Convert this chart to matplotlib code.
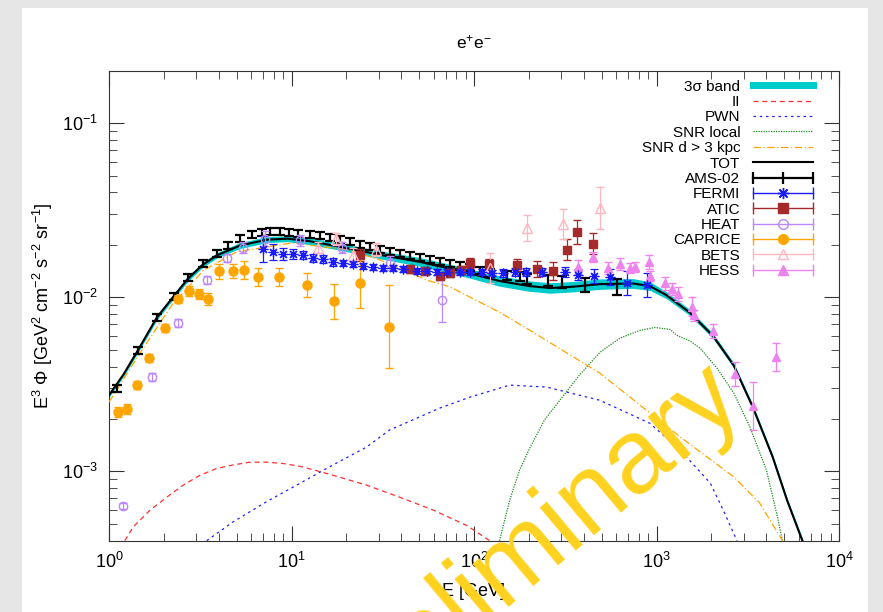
import numpy as np
import matplotlib
matplotlib.use('Agg')
import matplotlib.pyplot as plt
from matplotlib.lines import Line2D
from matplotlib.patches import Rectangle
from matplotlib.legend_handler import HandlerBase

plt.rcParams['font.family'] = ['Liberation Sans', 'DejaVu Sans']
plt.rcParams['mathtext.default'] = 'regular'
plt.rcParams['axes.unicode_minus'] = False

# ---- model curves (E in GeV, E^3 Phi) ----
tot_E = [1.0, 1.2, 1.44, 1.83, 2.24, 2.71, 3.27, 3.9, 5.2, 7.3, 9.5, 12.5, 18, 31.7, 50, 74, 100,
         138, 200, 261, 350, 490, 745, 919, 1130, 1515, 2040, 2650, 3370, 4330, 5200, 6300, 7000]
tot_y = [0.00274, 0.0036, 0.00496, 0.00766, 0.0100, 0.0128, 0.0154, 0.0174, 0.0198, 0.0214, 0.0217,
         0.0210, 0.0196, 0.0174, 0.0160, 0.0146, 0.0135, 0.0124, 0.0116, 0.0113, 0.0115, 0.0119,
         0.0120, 0.0116, 0.0103, 0.0082, 0.0060, 0.00406, 0.00234, 0.00121, 0.00068, 0.00040, 0.00029]
band_dex = [0.012, 0.012, 0.014, 0.014, 0.014, 0.015, 0.015, 0.015, 0.017, 0.017, 0.017, 0.02, 0.02,
            0.023, 0.025, 0.025, 0.027, 0.03, 0.03, 0.03, 0.03, 0.03, 0.028, 0.025, 0.02, 0.017,
            0.015, 0.015, 0.015, 0.015, 0.015, 0.015, 0.015]

ii_E = [1.22, 1.36, 1.68, 2.07, 2.55, 3.15, 3.89, 4.8, 5.93, 7.3, 9.0, 11.1, 13.7, 16.9, 25.8, 39.3,
        59.7, 91, 122]
ii_y = [0.00040, 0.000481, 0.00060, 0.00071, 0.000834, 0.00095, 0.00104, 0.00109, 0.00113, 0.00113,
        0.00111, 0.00107, 0.00101, 0.00095, 0.000834, 0.00071, 0.00060, 0.00049, 0.00040]

pwn_E = [3.43, 4.8, 7.3, 11.1, 16.9, 25.8, 34.5, 65, 95, 157, 250, 490, 919, 1355, 1970, 2320, 2760]
pwn_y = [0.00040, 0.000514, 0.00067, 0.000853, 0.00109, 0.00138, 0.00173, 0.00231, 0.00267,
         0.00313, 0.00305, 0.00256, 0.00189, 0.00132, 0.000857, 0.00060, 0.00040]

snrl_E = [138, 157, 178, 202, 243, 295, 378, 490, 628, 808, 980, 1190, 1290, 1530, 1740, 2150, 2650,
          3250, 4000, 4600, 4900]
snrl_y = [0.00040, 0.000686, 0.00102, 0.00136, 0.00197, 0.00256, 0.00357, 0.00483, 0.00581, 0.00645,
          0.00671, 0.00653, 0.00605, 0.0056, 0.00509, 0.0039, 0.00282, 0.0018, 0.00102, 0.000547,
          0.00040]

snrf_E = [1.0, 1.5, 2.24, 3.3, 5.0, 10, 20, 30, 57, 73.5, 138, 203, 490, 1355, 2650, 3670, 4900]
snrf_y = [0.0025, 0.0049, 0.0092, 0.0143, 0.0182, 0.0205, 0.0188, 0.0165, 0.0124, 0.0115, 0.0082,
          0.00645, 0.00366, 0.00157, 0.00093, 0.00066, 0.00040]

# ---- data sets (errors in dex) ----
ams_E = [1.11, 1.44, 1.83, 2.27, 2.71, 3.27, 3.90, 4.49, 5.21, 6.07, 6.89, 7.62, 8.66, 9.69, 10.9,
         12.6, 14.3, 16.2, 18.4, 20.9, 23.7, 26.9, 30.5, 34.7, 39.3, 44.6, 50.7, 57.5, 65.3, 74.1,
         84.1, 95.5, 108, 122, 151, 178, 196, 254, 303, 406, 608]
ams_y = [0.00300, 0.00495, 0.00766, 0.0101, 0.0130, 0.0156, 0.0178, 0.0198, 0.0217, 0.0229, 0.0235,
         0.0238, 0.0238, 0.0235, 0.0232, 0.0229, 0.0226, 0.0220, 0.0214, 0.0209, 0.0201, 0.0195,
         0.0188, 0.0183, 0.0178, 0.0174, 0.0169, 0.0165, 0.0160, 0.0156, 0.0152, 0.0148, 0.0142,
         0.0137, 0.0133, 0.0132, 0.0128, 0.0125, 0.0122, 0.0117, 0.0114]
ams_err = [0.02] * 33 + [0.023, 0.025, 0.027, 0.029, 0.031, 0.034, 0.04, 0.046]

fermi_E = [7.0, 7.9, 9.0, 10.2, 11.6, 13.1, 14.9, 16.9, 19.2, 21.7, 24.6, 28.0, 31.7, 35.9, 40.8,
           48.7, 55.3, 62.7, 71.2, 83.9, 95.5, 110, 125, 144, 168, 192, 237, 316, 370, 456, 557,
           688, 887]
fermi_y = [0.0190, 0.0181, 0.0178, 0.0178, 0.0176, 0.0169, 0.0165, 0.0160, 0.0158, 0.0156, 0.0152,
           0.0150, 0.0148, 0.0148, 0.0146, 0.0142, 0.0141, 0.0139, 0.0139, 0.0139, 0.0139, 0.0139,
           0.0137, 0.0137, 0.0139, 0.0139, 0.0139, 0.0139, 0.0135, 0.0133, 0.0130, 0.0120, 0.0118]
fermi_err = [0.075, 0.046, 0.034, 0.029, 0.023, 0.023, 0.023, 0.023] + [0.017] * 15 + \
            [0.023, 0.023, 0.023, 0.023, 0.029, 0.034, 0.04, 0.046, 0.069, 0.069]

atic_E = [23.7, 44.6, 53.8, 65.3, 73.9, 84.7, 95.5, 121, 172, 221, 270, 322, 369, 449]
atic_y = [0.0174, 0.0146, 0.0141, 0.0133, 0.0137, 0.0144, 0.0158, 0.0156, 0.0154, 0.0146, 0.0141,
          0.0188, 0.0238, 0.0203]
atic_err = [0.034, 0.023, 0.023, 0.023, 0.023, 0.023, 0.029, 0.029, 0.034, 0.046, 0.052, 0.063,
            0.069, 0.06]

heat_E = [1.19, 1.72, 2.39, 3.44, 4.43, 5.43, 7.17, 11.1, 18.9, 34.5, 66.6]
heat_y = [0.000633, 0.00347, 0.0071, 0.0125, 0.0167, 0.0193, 0.0217, 0.0212, 0.0193, 0.0158, 0.0096]
heat_err = [0.017, 0.023, 0.023, 0.023, 0.023, 0.029, 0.043, 0.034, 0.034, 0.04, 0.126]

cap_E = [1.12, 1.25, 1.42, 1.66, 2.03, 2.39, 2.74, 3.11, 3.49, 4.0, 4.77, 5.49, 6.55, 8.52, 12.1,
         17.1, 23.7, 34.1]
cap_y = [0.00219, 0.00228, 0.00312, 0.00446, 0.00665, 0.00973, 0.0109, 0.0105, 0.00973, 0.0141,
         0.0141, 0.0144, 0.0130, 0.0130, 0.0117, 0.00946, 0.0120, 0.00679]
cap_err = [0.029, 0.029, 0.023, 0.023, 0.023, 0.023, 0.029, 0.029, 0.034, 0.043, 0.04, 0.052, 0.052,
           0.052, 0.069, 0.1, 0.143, 0.24]

bets_E = [14.0, 17.5, 21.7, 29.0, 122, 195, 307, 490]
bets_y = [0.0193, 0.0217, 0.0174, 0.0188, 0.0148, 0.0251, 0.0265, 0.0327]
bets_err = [0.029, 0.034, 0.04, 0.04, 0.086, 0.075, 0.086, 0.12]

hess_E = [370, 449, 542, 628, 712, 760, 907, 922, 1110, 1220, 1310, 1560, 1600, 2040, 2700, 3400, 4530]
hess_y = [0.0150, 0.0171, 0.0148, 0.0156, 0.0148, 0.0150, 0.0160, 0.0132, 0.0120, 0.0111, 0.0105,
          0.00885, 0.00786, 0.00637, 0.00361, 0.00236, 0.00456]
hess_err = [0.04, 0.029, 0.034, 0.034, 0.029, 0.029, 0.04, 0.029, 0.04, 0.034, 0.04, 0.052, 0.029,
            0.04, 0.069, 0.138, 0.08]


def dexerr(y, d):
    y = np.asarray(y)
    d = np.asarray(d)
    return [y * (1 - 10 ** -d), y * (10 ** d - 1)]


class GnuErrHandler(HandlerBase):
    # gnuplot style key: horizontal bar with end caps and the point in the middle
    def create_artists(self, legend, orig, xdescent, ydescent, width, height, fontsize, trans):
        x0, x1 = -xdescent, -xdescent + width
        yc = (height - ydescent) / 2
        col = orig.get_color()
        bar = Line2D([x0, x1], [yc, yc], color=col, lw=orig.get_linewidth())
        caps = Line2D([x0, x1], [yc, yc], ls='none', marker='|', ms=8, mew=orig.get_linewidth(), color=col)
        mk = Line2D([(x0 + x1) / 2], [yc], ls='none', marker=orig.get_marker(), ms=orig.get_markersize(),
                    mfc=orig.get_markerfacecolor(), mec=orig.get_markeredgecolor(),
                    mew=orig.get_markeredgewidth())
        for a in (bar, caps, mk):
            a.set_transform(trans)
        return [bar, caps, mk]


fig = plt.figure(figsize=(8.83, 6.12), dpi=100)
fig.patch.set_facecolor('#e6e6e6')
fig.add_artist(Rectangle((22 / 883, 0), 846 / 883, 604 / 612, transform=fig.transFigure,
                         facecolor='white', edgecolor='none', zorder=-5))
ax = fig.add_axes([109 / 883, 1 - 540.7 / 612, 730 / 883, 470 / 612])

band_lo = np.array(tot_y) * 10 ** -np.array(band_dex)
band_hi = np.array(tot_y) * 10 ** np.array(band_dex)
ax.fill_between(tot_E, band_lo, band_hi, color='#00cccc', lw=0, zorder=2)
ax.plot(ii_E, ii_y, color='#ff3030', ls=(0, (4, 3)), lw=0.9, zorder=3)
ax.plot(pwn_E, pwn_y, color='#2020ff', ls=(0, (2, 3)), lw=0.9, zorder=3)
ax.plot(snrl_E, snrl_y, color='#1a8c1a', ls=(0, (1, 1)), lw=0.9, zorder=3)
ax.plot(snrf_E, snrf_y, color='#ffa500', ls=(0, (6, 2, 1, 2)), lw=0.9, zorder=3)
ax.plot(tot_E, tot_y, color='black', lw=1.5, zorder=4)

sets = [
    (ams_E, ams_y, ams_err, dict(fmt='none', color='black', elinewidth=1.6, capsize=3.5, capthick=1.6)),
    (fermi_E, fermi_y, fermi_err, dict(fmt='none', color='#1a1aff', elinewidth=0.9, capsize=3, capthick=0.9)),
    (atic_E, atic_y, atic_err, dict(fmt='s', color='#a52a2a', ms=6, elinewidth=0.9, capsize=3)),
    (heat_E, heat_y, heat_err, dict(fmt='o', color='#bb88ff', mfc='none', ms=6, mew=1, elinewidth=0.9, capsize=3)),
    (cap_E, cap_y, cap_err, dict(fmt='o', color='#ffa500', ms=6.5, elinewidth=0.9, capsize=3)),
    (bets_E, bets_y, bets_err, dict(fmt='^', color='#ffb6c1', mfc='none', ms=7, mew=1, elinewidth=0.9, capsize=3)),
    (hess_E, hess_y, hess_err, dict(fmt='^', color='#ee82ee', ms=6, elinewidth=0.9, capsize=3)),
]
for E, y, d, kw in sets:
    ax.errorbar(E, y, yerr=dexerr(y, d), zorder=5, **kw)
ax.plot(fermi_E, fermi_y, ls='none', marker=(8, 2, 0), ms=7, mew=0.9, color='#1a1aff', zorder=6)

ax.set_xscale('log')
ax.set_yscale('log')
ax.set_xlim(1, 1e4)
ax.set_ylim(4e-4, 0.2)
ax.tick_params(which='both', direction='in', top=True, right=True, labelsize=13, pad=8,
               color='#333333')
ax.tick_params(which='major', length=11)
ax.tick_params(which='minor', length=6)
for s in ax.spines.values():
    s.set_color('#333333')

ax.set_title('e$^{+}$e$^{-}$', fontsize=12.5, pad=16)
ax.set_xlabel('E [GeV]', fontsize=13)
ax.xaxis.set_label_coords(0.5, -0.09)
ax.set_ylabel('E$^{3}$ Φ [GeV$^{2}$ cm$^{-2}$ s$^{-2}$ sr$^{-1}$]', fontsize=13)
ax.yaxis.set_label_coords(-0.074, 0.5)

# legend
err_kw = dict(lw=1)
h_band = Line2D([], [], color='#00cccc', lw=5)
h_ii = Line2D([], [], color='#ff3030', ls=(0, (4, 3)), lw=0.9)
h_pwn = Line2D([], [], color='#2020ff', ls=(0, (2, 3)), lw=0.9)
h_snrl = Line2D([], [], color='#1a8c1a', ls=(0, (1, 1)), lw=0.9)
h_snrf = Line2D([], [], color='#ffa500', ls=(0, (6, 2, 1, 2)), lw=0.9)
h_tot = Line2D([], [], color='black', lw=1.5)
h_ams = Line2D([], [], color='black', lw=1.6, marker='|', ms=8, mew=1.6)
h_fermi = Line2D([], [], color='#1a1aff', marker=(8, 2, 0), ms=8, mew=1, **err_kw)
h_atic = Line2D([], [], color='#a52a2a', marker='s', ms=7, mfc='#a52a2a', mec='#a52a2a', **err_kw)
h_heat = Line2D([], [], color='#bb88ff', marker='o', ms=7, mfc='none', mec='#bb88ff', mew=1, **err_kw)
h_cap = Line2D([], [], color='#ffa500', marker='o', ms=7, mfc='#ffa500', mec='#ffa500', **err_kw)
h_bets = Line2D([], [], color='#ffb6c1', marker='^', ms=7, mfc='none', mec='#ffb6c1', mew=1, **err_kw)
h_hess = Line2D([], [], color='#ee82ee', marker='^', ms=7, mfc='#ee82ee', mec='#ee82ee', **err_kw)
handles = [h_band, h_ii, h_pwn, h_snrl, h_snrf, h_tot, h_ams, h_fermi, h_atic, h_heat, h_cap, h_bets, h_hess]
labels = ['3σ band', 'II', 'PWN', 'SNR local', 'SNR d > 3 kpc', 'TOT', 'AMS-02', 'FERMI', 'ATIC',
          'HEAT', 'CAPRICE', 'BETS', 'HESS']
hmap = {h: GnuErrHandler() for h in [h_ams, h_fermi, h_atic, h_heat, h_cap, h_bets, h_hess]}
ax.legend(handles, labels, handler_map=hmap, loc='upper right', bbox_to_anchor=(1 - 26 / 730, 1 - 9 / 470),
          frameon=False, markerfirst=False, fontsize=11, handlelength=3.9, handletextpad=0.85,
          labelspacing=0.09, borderpad=0, borderaxespad=0)

# watermark
fig.text(745 / 883, 1 - 402 / 612, 'Preliminary', fontsize=76, color='#ffd21f', rotation=40,
         rotation_mode='anchor', ha='right', va='baseline', zorder=20)

fig.savefig('out.png', dpi=100)
